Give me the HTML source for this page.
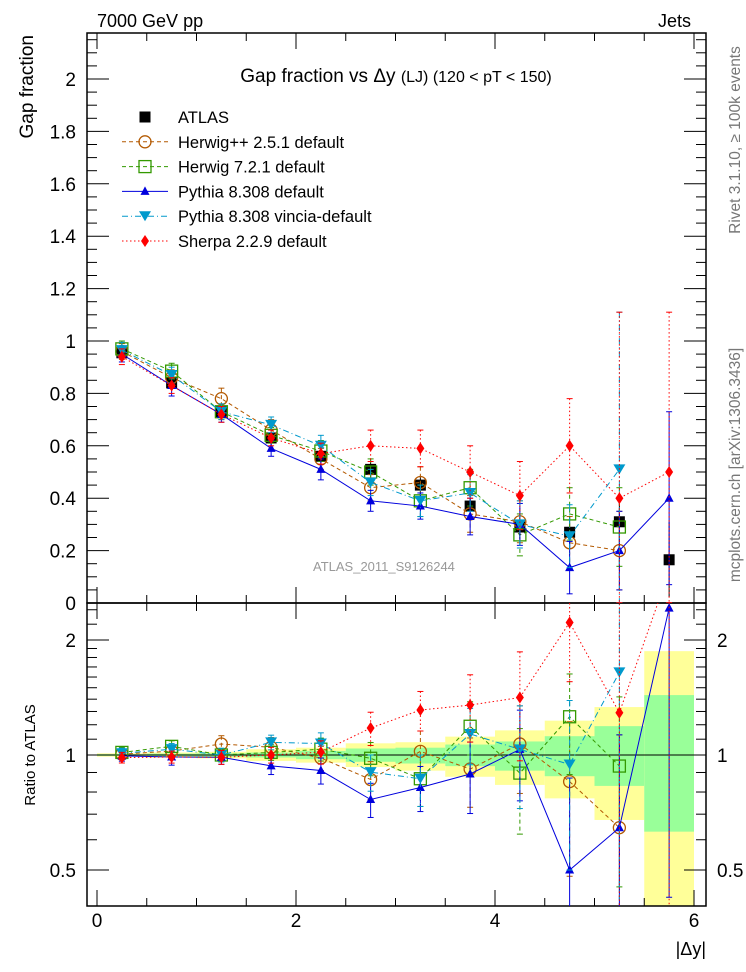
<!DOCTYPE html>
<html><head><meta charset="utf-8"><style>
html,body{margin:0;padding:0;background:#fff;width:746px;height:972px;overflow:hidden}
svg{display:block;font-family:"Liberation Sans",sans-serif}
</style></head><body>
<svg id="chart" width="746" height="972" viewBox="0 0 746 972" xmlns="http://www.w3.org/2000/svg" overflow="hidden">
<defs>
<clipPath id="cm"><rect x="87" y="33" width="619" height="570"/></clipPath>
<clipPath id="cr"><rect x="87" y="603" width="619" height="303"/></clipPath>
</defs>
<g id="bands" clip-path="url(#cr)"></g>
<g id="axes"></g>
<g id="series-main" clip-path="url(#cm)"></g>
<g id="series-ratio" clip-path="url(#cr)"></g>
<g id="labels"></g>
<text x="97" y="27" font-size="18">7000 GeV pp</text>
<text x="691" y="27" font-size="18" text-anchor="end">Jets</text>
<text x="396" y="82" font-size="19" text-anchor="middle">Gap fraction vs  Δy <tspan font-size="16">(LJ) (120 &lt; pT &lt; 150)</tspan></text>
<text x="313" y="571" font-size="13" fill="#999">ATLAS_2011_S9126244</text>
<text transform="translate(33,35) rotate(-90)" font-size="19" text-anchor="end">Gap fraction</text>
<text transform="translate(35,755) rotate(-90)" font-size="15" text-anchor="middle">Ratio to ATLAS</text>
<text x="706" y="955" font-size="18" text-anchor="end">|Δy|</text>
<text transform="translate(740,140) rotate(-90)" font-size="15.5" fill="#777" text-anchor="middle">Rivet 3.1.10, ≥ 100k events</text>
<text transform="translate(740,465) rotate(-90)" font-size="15.5" fill="#777" text-anchor="middle">mcplots.cern.ch [arXiv:1306.3436]</text>
<g id="legend"></g>
</svg>
<script>
const xCenters=[0.25,0.75,1.25,1.75,2.25,2.75,3.25,3.75,4.25,4.75,5.25,5.75];
const atlas=[0.955,0.84,0.73,0.63,0.56,0.51,0.45,0.37,0.29,0.27,0.31,0.165];
const yellowUp=[0.01,0.015,0.02,0.035,0.045,0.073,0.08,0.117,0.16,0.23,0.335,0.87];
const yellowDn=[0.01,0.015,0.02,0.035,0.045,0.07,0.09,0.123,0.165,0.23,0.324,0.7];
const greenUp=[0.005,0.008,0.01,0.015,0.025,0.04,0.045,0.065,0.085,0.12,0.19,0.435];
const greenDn=[0.005,0.008,0.01,0.015,0.025,0.04,0.05,0.065,0.09,0.12,0.17,0.37];
const herwigpp=[0.96,0.86,0.78,0.66,0.55,0.44,0.46,0.34,0.31,0.23,0.20,null];
const herwigppErr=[0.03,0.03,0.04,0.04,0.04,0.05,0.06,0.07,0.08,0.1,0.15,0];
const herwig7=[0.97,0.885,0.73,0.64,0.58,0.50,0.39,0.44,0.26,0.34,0.29,null];
const herwig7Err=[0.03,0.03,0.03,0.03,0.04,0.05,0.06,0.07,0.08,0.1,0.15,0];
const pythia=[0.95,0.83,0.72,0.59,0.51,0.39,0.37,0.33,0.30,0.135,0.20,0.40];
const pythiaErr=[0.03,0.04,0.03,0.03,0.04,0.04,0.05,0.07,0.08,0.1,0.15,0.33];
const vincia=[0.965,0.87,0.73,0.68,0.60,0.46,0.39,0.42,0.30,0.255,0.51,null];
const vinciaErr=[0.03,0.03,0.03,0.03,0.04,0.05,0.06,0.07,0.09,0.12,0.6,0];
const sherpa=[0.94,0.83,0.72,0.63,0.57,0.60,0.59,0.50,0.41,0.60,0.40,0.50];
const sherpaErr=[0.03,0.03,0.03,0.03,0.04,0.06,0.07,0.1,0.13,0.18,0.71,0.61];
const mainTicks=[0,0.2,0.4,0.6,0.8,1,1.2,1.4,1.6,1.8,2];
const mainTickLabels=["0","0.2","0.4","0.6","0.8","1","1.2","1.4","1.6","1.8","2"];
const ratioTicks=[0.5,1,2];
const ratioTickLabels=["0.5","1","2"];
const xTicks=[0,2,4,6];
const xTickLabels=["0","2","4","6"];

const NS="http://www.w3.org/2000/svg";
const X=v=>97+v*99.5;
const Y=v=>603-v*262;
const R=v=>755-Math.log2(v)*115;
function mk(tag,attrs,parent){const e=document.createElementNS(NS,tag);for(const k in attrs)e.setAttribute(k,attrs[k]);parent.appendChild(e);return e;}
const axes=document.getElementById('axes'),labels=document.getElementById('labels');
const bands=document.getElementById('bands');
for(let i=0;i<xCenters.length;i++){
  const x0=X(xCenters[i]-0.25),x1=X(xCenters[i]+0.25);
  const y1=mk('rect',{x:x0,width:x1-x0,y:R(1+yellowUp[i]),height:R(Math.max(1-yellowDn[i],0.05))-R(1+yellowUp[i]),fill:'#ffff99'},bands);
  
  
  const g=mk('rect',{x:x0,width:x1-x0,y:R(1+greenUp[i]),height:R(1-greenDn[i])-R(1+greenUp[i]),fill:'#99ff99'},bands);
  
  
}
const f1=mk('rect',{x:87,y:33,width:619,height:570,fill:'none',stroke:'#000','stroke-width':1.5},axes);


const f2=mk('rect',{x:87,y:603,width:619,height:303,fill:'none',stroke:'#000','stroke-width':1.5},axes);


mk('line',{x1:87,x2:706,y1:R(1),y2:R(1),stroke:'#000','stroke-width':1},axes);
for(let v=0;v<=6.01;v+=0.5){
  const maj=Math.abs(v-Math.round(v/2)*2)<0.01, L=maj?16:8, x=X(v);
  [[33,1],[603,-1],[603,1],[906,-1]].forEach(([y,d])=>mk('line',{x1:x,x2:x,y1:y,y2:y+d*L,stroke:'#000'},axes));
}
xTicks.forEach((v,i)=>{const t=mk('text',{x:X(v),y:927,'font-size':19,'text-anchor':'middle'},labels);t.textContent=xTickLabels[i];

});
for(let k=0;k<=43;k++){const v=k*0.05;const y=Y(v);if(y<33)break;const maj=k%4==0,L=maj?22:10;
  mk('line',{x1:87,x2:87+L,y1:y,y2:y,stroke:'#000'},axes);mk('line',{x1:706,x2:706-L,y1:y,y2:y,stroke:'#000'},axes);}
mainTicks.forEach((v,i)=>{const t=mk('text',{x:76,y:Y(v)+7,'font-size':19,'text-anchor':'end'},labels);t.textContent=mainTickLabels[i];

});
[0.4,0.6,0.7,0.8,0.9,1.1,1.2,1.3,1.4,1.5,1.6,1.7,1.8,1.9,2.2,2.4].forEach(v=>{const y=R(v);if(y<603||y>906)return;
  mk('line',{x1:87,x2:97,y1:y,y2:y,stroke:'#000'},axes);mk('line',{x1:706,x2:696,y1:y,y2:y,stroke:'#000'},axes);});
ratioTicks.forEach((v,i)=>{const y=R(v);
  mk('line',{x1:87,x2:109,y1:y,y2:y,stroke:'#000'},axes);mk('line',{x1:706,x2:684,y1:y,y2:y,stroke:'#000'},axes);
  const t=mk('text',{x:76,y:y+7,'font-size':19,'text-anchor':'end'},labels);t.textContent=ratioTickLabels[i];
  
  
  const t2=mk('text',{x:717,y:y+7,'font-size':19},labels);t2.textContent=ratioTickLabels[i];
  
  });

function marker(type,x,y,color,parent){
  if(type==='square')return mk('rect',{x:x-5.5,y:y-5.5,width:11,height:11,fill:'#000'},parent);
  if(type==='osquare')return mk('rect',{x:x-6,y:y-6,width:12,height:12,fill:'none',stroke:color,'stroke-width':1.3},parent);
  if(type==='circle')return mk('circle',{cx:x,cy:y,r:6,fill:'none',stroke:color,'stroke-width':1.3},parent);
  if(type==='tri')return mk('polygon',{points:`${x},${y-5} ${x-4.5},${y+3.5} ${x+4.5},${y+3.5}`,fill:color},parent);
  if(type==='dtri')return mk('polygon',{points:`${x-6},${y-5} ${x+6},${y-5} ${x},${y+5}`,fill:color},parent);
  if(type==='diamond')return mk('polygon',{points:`${x},${y-6} ${x+4},${y} ${x},${y+6} ${x-4},${y}`,fill:color},parent);
}
const series=[
 {name:'herwigpp',label:'Herwig++ 2.5.1 default',vals:herwigpp,err:herwigppErr,color:'#b35900',dash:'4,3',m:'circle'},
 {name:'herwig7',label:'Herwig 7.2.1 default',vals:herwig7,err:herwig7Err,color:'#339900',dash:'4,3',m:'osquare'},
 {name:'pythia',label:'Pythia 8.308 default',vals:pythia,err:pythiaErr,color:'#0000dd',dash:'',m:'tri'},
 {name:'vincia',label:'Pythia 8.308 vincia-default',vals:vincia,err:vinciaErr,color:'#0099cc',dash:'6,3,1,3',m:'dtri'},
 {name:'sherpa',label:'Sherpa 2.2.9 default',vals:sherpa,err:sherpaErr,color:'#ff0000',dash:'1.5,2.5',m:'diamond'}
];
const gm=document.getElementById('series-main'),gr=document.getElementById('series-ratio');
xCenters.forEach((xc,i)=>{const x=X(xc),e=atlas[i]*(yellowUp[i]);
  mk('line',{x1:x,x2:x,y1:Y(atlas[i]+e),y2:Y(atlas[i]-e),stroke:'#000'},gm);
  const m=marker('square',x,Y(atlas[i]),'#000',gm);
  
  });
series.forEach(s=>{
  [[gm,Y,v=>v],[gr,R,(v,i)=>v/atlas[i]]].forEach(([g,F,tf])=>{
    const pts=[];
    s.vals.forEach((v,i)=>{if(v==null)return;pts.push(X(xCenters[i])+','+F(tf(v,i)));});
    const pl=mk('polyline',{points:pts.join(' '),fill:'none',stroke:s.color,'stroke-width':1,'stroke-dasharray':s.dash},g);
    
    
    s.vals.forEach((v,i)=>{if(v==null)return;const x=X(xCenters[i]);
      const hi=F(tf(v+s.err[i],i)),lo=F(tf(Math.max(v-s.err[i],0.001),i));
      mk('line',{x1:x,x2:x,y1:Math.max(hi,0),y2:Math.min(lo,972),stroke:s.color,'stroke-dasharray':s.dash}, g);
      mk('line',{x1:x-3,x2:x+3,y1:hi,y2:hi,stroke:s.color},g);
      if(lo<972)mk('line',{x1:x-3,x2:x+3,y1:lo,y2:lo,stroke:s.color},g);
      const m=marker(s.m,x,F(tf(v,i)),s.color,g);
      
      });
  });
});
const lg=document.getElementById('legend');
const rows=[{label:'ATLAS',m:'square',color:'#000',dash:null}].concat(series);
rows.forEach((s,k)=>{const y=117+k*24.8;
  const g=mk('g',{},lg);
  
  
  if(s.dash!==null)mk('line',{x1:122,x2:168,y1:y,y2:y,stroke:s.color,'stroke-dasharray':s.dash},g);
  marker(s.m,145,y,s.color,g);
  const t=mk('text',{x:178,y:y+6,'font-size':16.5},g);t.textContent=s.label;});
</script>
</body></html>
